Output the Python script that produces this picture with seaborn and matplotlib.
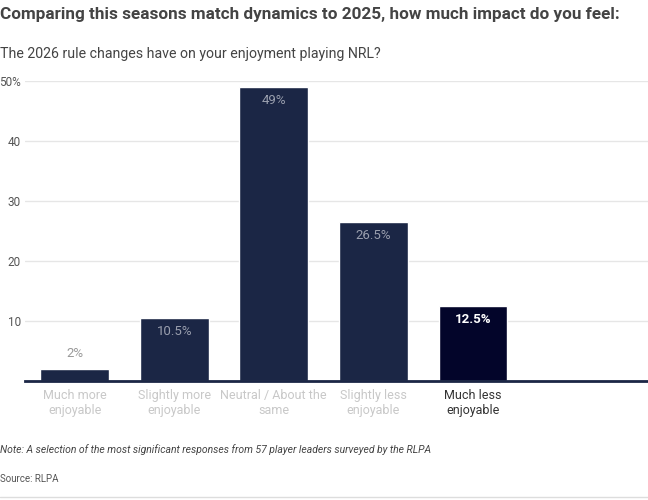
import matplotlib.pyplot as plt
import seaborn as sns
import pandas as pd

categories = ["Much more\nenjoyable", "Slightly more\nenjoyable", "Neutral / About the\nsame",
              "Slightly less\nenjoyable", "Much less\nenjoyable"]
values = [2, 10.5, 49, 26.5, 12.5]
value_labels = ["2%", "10.5%", "49%", "26.5%", "12.5%"]
bar_colors = ["#1b2645", "#1b2645", "#1b2645", "#1b2645", "#03052a"]

sns.set_theme(style="white")
plt.rcParams['font.family'] = ['Roboto', 'DejaVu Sans']

df = pd.DataFrame({"answer": categories, "pct": values})

fig = plt.figure(figsize=(6.48, 5), dpi=100)
ax = fig.add_axes([25 / 648, 1 - 381 / 500, 623 / 648, 300 / 500])
sns.barplot(data=df, x="answer", y="pct", hue="answer", palette=bar_colors,
            width=0.69, saturation=1, legend=False, ax=ax)

ax.set_xlim(-0.5, 5.76)
ax.set_ylim(0, 50)
ax.set_yticks([10, 20, 30, 40, 50])
ax.set_yticklabels(["10", "20", "30", "40", "50%"], color="#555555", fontsize=8.5)
ax.tick_params(axis="y", length=0, pad=3)
ax.tick_params(axis="x", length=0, pad=6)
ax.yaxis.grid(True, color="#e6e6e6", linewidth=1)
ax.set_axisbelow(True)
for s in ["top", "right", "left"]:
    ax.spines[s].set_visible(False)
ax.spines["bottom"].set_color("#1b2645")
ax.spines["bottom"].set_linewidth(2)
ax.set_xlabel("")
ax.set_ylabel("")

for i, lab in enumerate(ax.get_xticklabels()):
    lab.set_fontsize(9)
    lab.set_color("#333333" if i == 4 else "#c8c8c8")

for i, (v, t) in enumerate(zip(values, value_labels)):
    if v < 5:
        ax.text(i, v + 1.5, t, ha="center", va="bottom", color="#999999", fontsize=9.5)
    elif i == 4:
        ax.text(i, v - 1.2, t, ha="center", va="top", color="white", fontsize=9.5, fontweight="bold")
    else:
        ax.text(i, v - 1.2, t, ha="center", va="top", color="#9a9fae", fontsize=9.5)

fig.text(0, 1 - 14 / 500, "Comparing this seasons match dynamics to 2025, how much impact do you feel:",
         fontsize=12.3, fontweight="bold", color="#444444", va="center", ha="left")
fig.text(0, 1 - 54 / 500, "The 2026 rule changes have on your enjoyment playing NRL?",
         fontsize=10.2, color="#444444", va="center", ha="left")
fig.text(0, 1 - 450 / 500,
         "Note: A selection of the most significant responses from 57 player leaders surveyed by the RLPA",
         fontsize=7.5, style="italic", color="#444444", va="center", ha="left")
fig.text(0, 1 - 479 / 500, "Source: RLPA", fontsize=7, color="#555555", va="center", ha="left")
fig.add_artist(plt.Line2D([0, 1], [1 - 497 / 500, 1 - 497 / 500], color="#dddddd", linewidth=1))

fig.savefig("out.png", dpi=100)
